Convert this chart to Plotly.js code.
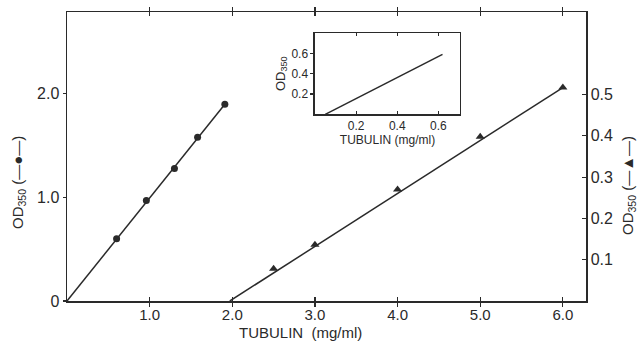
<!DOCTYPE html>
<html>
<head>
<meta charset="utf-8">
<script src="https://cdn.plot.ly/plotly-3.0.1.min.js"></script>
<style>html,body{margin:0;padding:0;background:#fff;}#chart{width:643px;height:342px;}</style>
</head>
<body>
<div id="chart"></div>
<script>
// Circles: OD350 (left axis) vs tubulin (mg/ml)
const circleX = [0.60, 0.96, 1.30, 1.58, 1.91];
const circleY = [0.60, 0.97, 1.28, 1.58, 1.90];
const circleFitX = [0, 1.91];
const circleFitY = [0, 1.90];

// Triangles: OD350 (right axis) vs tubulin (mg/ml)
const triX = [2.5, 3.0, 4.0, 5.0, 6.0];
const triY = [0.078, 0.136, 0.270, 0.398, 0.517];
const triFitX = [1.97, 6.0];
const triFitY = [0, 0.517];

// Inset line
const insetX = [0.05, 0.62];
const insetY = [0, 0.59];

// Tick labels
const xTicks = [1, 2, 3, 4, 5, 6];
const xTickText = ["1.0", "2.0", "3.0", "4.0", "5.0", "6.0"];
const yTicks = [0, 1, 2];
const yTickText = ["0", "1.0", "2.0"];
const y2Ticks = [0.1, 0.2, 0.3, 0.4, 0.5];
const y2TickText = ["0.1", "0.2", "0.3", "0.4", "0.5"];
const inTicks = [0.2, 0.4, 0.6];
const inTickText = ["0.2", "0.4", "0.6"];

const ink = "#2a2a2a";
const font = "Liberation Sans, Arial, Helvetica, sans-serif";

const traces = [
  {x: circleFitX, y: circleFitY, mode: "lines", line: {color: ink, width: 1.5}, xaxis: "x", yaxis: "y", hoverinfo: "skip"},
  {x: circleX, y: circleY, mode: "markers", marker: {symbol: "circle", size: 7, color: ink}, xaxis: "x", yaxis: "y"},
  {x: triFitX, y: triFitY, mode: "lines", line: {color: ink, width: 1.5}, xaxis: "x", yaxis: "y2", hoverinfo: "skip"},
  {x: triX, y: triY, mode: "markers", marker: {symbol: "triangle-up", size: 8, color: ink}, xaxis: "x", yaxis: "y2"},
  {x: insetX, y: insetY, mode: "lines", line: {color: ink, width: 1.5}, xaxis: "x3", yaxis: "y3", hoverinfo: "skip"}
];

const axisCommon = {showgrid: false, zeroline: false, showline: true, linecolor: ink, linewidth: 1.5, tickcolor: ink, tickwidth: 1.2};

const layout = {
  width: 643, height: 342,
  margin: {l: 67, r: 57, t: 12, b: 41},
  paper_bgcolor: "#fff", plot_bgcolor: "#fff",
  showlegend: false,
  font: {family: font, color: ink, size: 16},
  xaxis: Object.assign({}, axisCommon, {
    range: [0, 6.28], tickmode: "array", tickvals: xTicks, ticktext: xTickText,
    ticks: "inside", ticklen: 4, mirror: "allticks", tickfont: {size: 15}, ticklabelstandoff: -1
  }),
  yaxis: Object.assign({}, axisCommon, {
    range: [0, 2.79], tickmode: "array", tickvals: yTicks, ticktext: yTickText,
    ticks: "outside", ticklen: 3, tickfont: {size: 16}
  }),
  yaxis2: Object.assign({}, axisCommon, {
    overlaying: "y", side: "right", anchor: "x",
    range: [0, 0.70], tickmode: "array", tickvals: y2Ticks, ticktext: y2TickText,
    ticks: "inside", ticklen: 4, tickfont: {size: 16}
  }),
  xaxis3: Object.assign({}, axisCommon, {
    domain: [0.4778, 0.7572], anchor: "y3",
    range: [0, 0.705], tickmode: "array", tickvals: inTicks, ticktext: inTickText,
    ticks: "inside", ticklen: 3, mirror: "allticks", tickfont: {size: 12},
    title: {text: "TUBULIN (mg/ml)", font: {size: 12}, standoff: 1}
  }),
  yaxis3: Object.assign({}, axisCommon, {
    domain: [0.646, 0.927], anchor: "x3",
    range: [0, 0.80], tickmode: "array", tickvals: inTicks, ticktext: inTickText,
    ticks: "outside", ticklen: 3, mirror: true, tickfont: {size: 12},
    title: {text: "OD<sub>350</sub>", font: {size: 13}, standoff: 3}
  }),
  annotations: [
    {xref: "paper", yref: "paper", x: (300 - 67) / 519, y: (301 - 342) / 289, yanchor: "bottom", xanchor: "center",
     text: "TUBULIN  (mg/ml)", showarrow: false, font: {size: 15}, borderpad: 0},
    {xref: "paper", yref: "paper", x: (18 - 67) / 519, y: (301 - 183) / 289, xanchor: "center", yanchor: "middle",
     text: "OD<sub>350</sub> (—●—)", textangle: -90, showarrow: false, font: {size: 15}},
    {xref: "paper", yref: "paper", x: (628 - 67) / 519, y: (301 - 186) / 289, xanchor: "center", yanchor: "middle",
     text: "OD<sub>350</sub> (—▲—)", textangle: -90, showarrow: false, font: {size: 15}}
  ]
};

Plotly.newPlot("chart", traces, layout, {displayModeBar: false, staticPlot: true});
</script>
</body>
</html>
